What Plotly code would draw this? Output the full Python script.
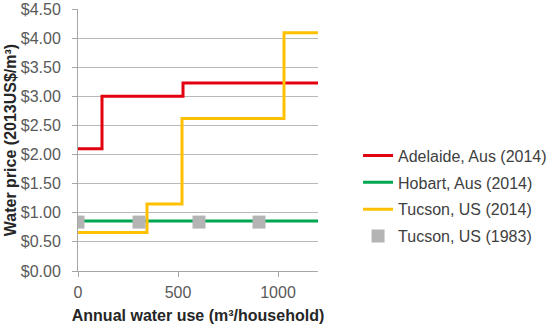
import plotly.graph_objects as go

adelaide_x = [0, 120, 525, 1200]
adelaide_y = [2.10, 3.00, 3.23, 3.23]
hobart_x = [0, 1200]
hobart_y = [0.86, 0.86]
tucson14_x = [0, 345, 520, 1030, 1200]
tucson14_y = [0.66, 1.15, 2.62, 4.09, 4.09]
tucson83_x = [0, 305, 605, 905]
tucson83_y = [0.84, 0.84, 0.84, 0.84]

font = "Arial, Liberation Sans, sans-serif"
fig = go.Figure()
fig.add_trace(go.Scatter(x=adelaide_x, y=adelaide_y, mode="lines", line_shape="hv", legendgroup="a",
                         line=dict(color="#e3000f", width=3), name="Adelaide, Aus (2014)"))
fig.add_trace(go.Scatter(x=hobart_x, y=hobart_y, mode="lines", legendgroup="b",
                         line=dict(color="#00a651", width=3), name="Hobart, Aus (2014)"))
fig.add_trace(go.Scatter(x=tucson14_x, y=tucson14_y, mode="lines", line_shape="hv", legendgroup="c",
                         line=dict(color="#ffc000", width=3), name="Tucson, US (2014)"))
fig.add_trace(go.Scatter(x=tucson83_x, y=tucson83_y, mode="markers", legendgroup="d",
                         marker=dict(symbol="square", size=13, color="#b4b4b4"),
                         name="Tucson, US (1983)"))

fig.update_layout(
    width=550, height=328,
    margin=dict(l=78, r=232, t=9, b=57),
    paper_bgcolor="white", plot_bgcolor="white",
    font=dict(family=font, color="#595959", size=16),
    showlegend=True,
    legend=dict(xref="container", yref="container", x=0.651, xanchor="left",
                y=0.402, yanchor="middle",
                font=dict(size=16, color="#404040"), tracegroupgap=3,
                itemwidth=30, bgcolor="rgba(0,0,0,0)"),
)
fig.update_xaxes(range=[0, 1200], tickvals=[0, 500, 1000], showgrid=False,
                 showline=True, linecolor="#a6a6a6", linewidth=1,
                 ticks="outside", tickcolor="#a6a6a6", ticklen=5,
                 ticklabelstandoff=2,
                 zeroline=False, automargin=False,
                 title=dict(text="<b>Annual water use (m³/household)</b>",
                            font=dict(size=16, color="#262626"), standoff=9))
fig.update_yaxes(range=[0, 4.5], dtick=0.5, tickformat="$.2f",
                 showgrid=True, gridcolor="#b8b8b8", gridwidth=1,
                 showline=True, linecolor="#a6a6a6", linewidth=1,
                 ticks="outside", tickcolor="#a6a6a6", ticklen=5,
                 ticklabelstandoff=8,
                 zeroline=False, automargin=False,
                 title=dict(text="<b>Water price (2013US$/m³)</b>",
                            font=dict(size=16, color="#262626"), standoff=0))
fig.write_html("out.html", config={"displayModeBar": False},
               post_script="document.body.style.margin='0';")
